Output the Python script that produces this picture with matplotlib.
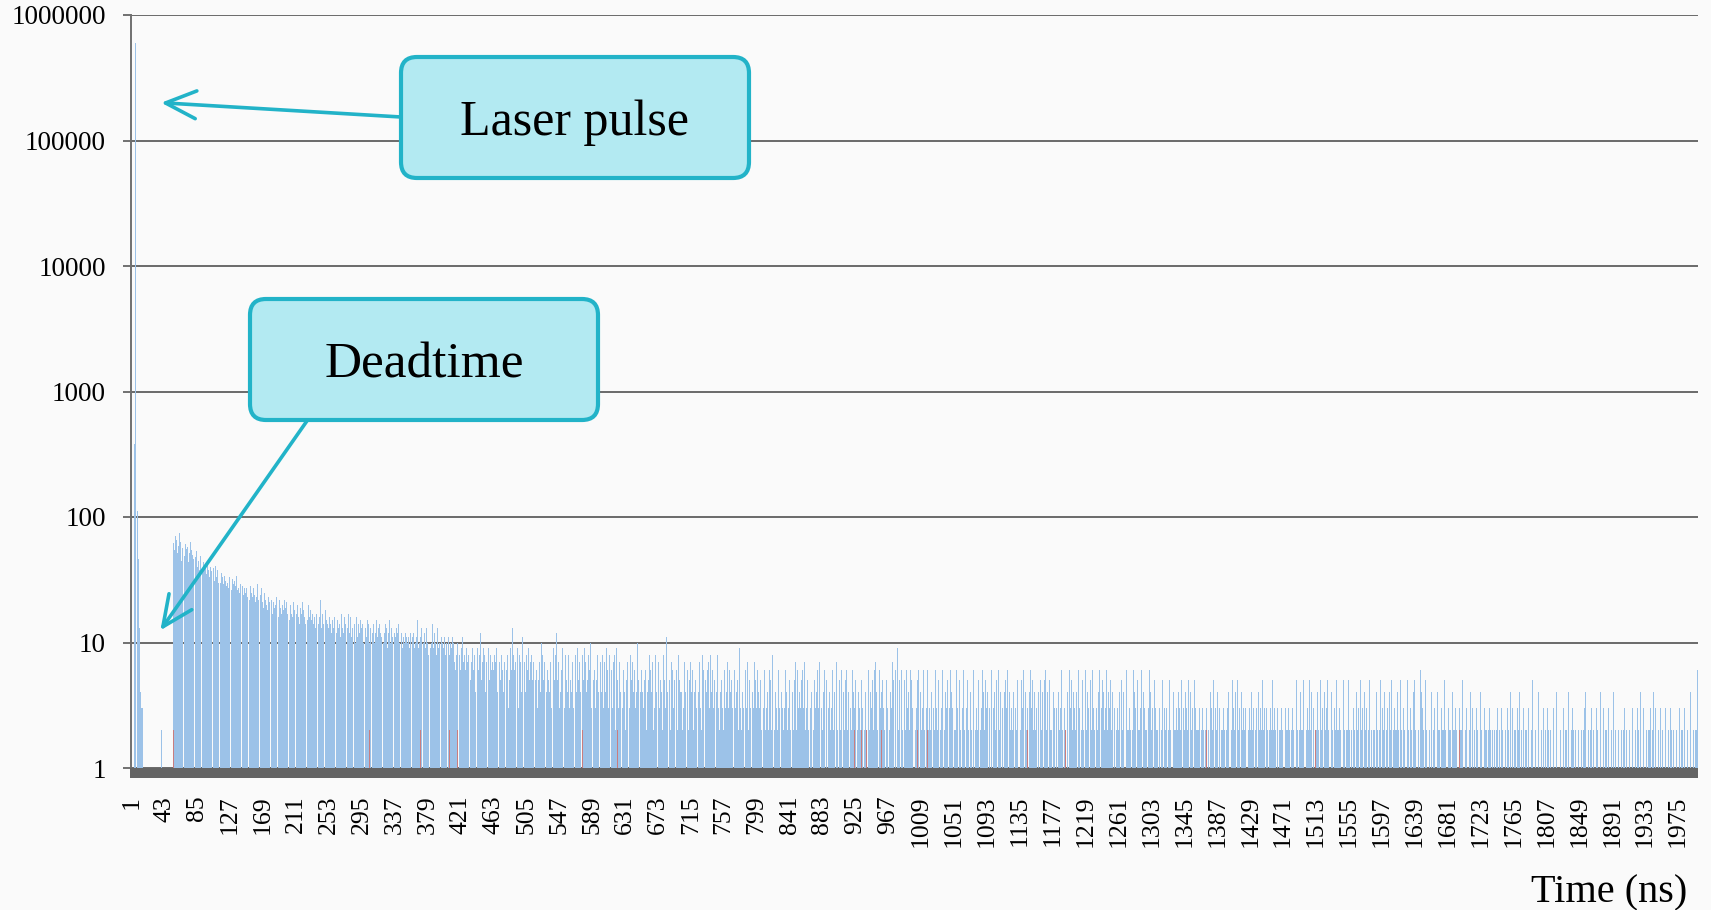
import numpy as np
import matplotlib
matplotlib.use('Agg')
import matplotlib.pyplot as plt
from matplotlib.patches import FancyBboxPatch, Rectangle
from matplotlib.transforms import IdentityTransform

# counts per 1 ns bin: laser pulse + deadtime gap
head_counts = [0, 0, 0, 0, 380, 600000, 400000, 1400, 112, 46, 13, 8, 4, 3, 3,
               0, 0, 0, 0, 0, 0, 0, 0, 0, 0, 0, 0, 0, 0, 0, 0, 0, 0, 0, 0, 0, 0, 0,
               2, 0, 0, 0, 0, 0, 0, 0, 0, 0, 0, 0, 0, 0]

# afterpulse bulk, bins 53..412
bulk_counts = [
    4, 29, 62, 55, 71, 48, 66, 52, 59, 74, 50, 63, 45, 57, 68, 53, 49, 61, 56, 47,
    58, 44, 52, 63, 41, 55, 50, 46, 59, 43, 48, 54, 40, 51, 45, 38, 49, 42, 47, 36,
    44, 39, 46, 41, 35, 43, 38, 45, 33, 40, 37, 42, 34, 39, 31, 41, 36, 33, 38, 30,
    37, 34, 30, 36, 33, 35, 29, 34, 31, 28, 35, 30, 27, 33, 29, 36, 26, 32, 29, 25,
    31, 28, 34, 26, 30, 27, 25, 29, 33, 26, 28, 24, 27, 31, 25, 27, 23, 29, 26, 22,
    28, 25, 30, 23, 27, 24, 21, 26, 23, 29, 22, 25, 20, 24, 27, 21, 23, 19, 25, 22,
    20, 24, 18, 23, 21, 27, 19, 22, 17, 21, 24, 19, 20, 23, 18, 21, 16, 22, 19, 25,
    17, 20, 18, 22, 16, 19, 21, 17, 23, 18, 15, 20, 17, 19, 16, 21, 18, 15, 19, 17,
    20, 16, 18, 14, 19, 17, 21, 15, 18, 16, 14, 19, 17, 15, 20, 16, 13, 18, 15, 17,
    14, 19, 16, 13, 17, 15, 18, 14, 16, 22, 15, 13, 17, 14, 16, 12, 18, 15, 14, 17,
    13, 16, 14, 12, 17, 15, 13, 16, 14, 18, 12, 15, 13, 16, 14, 11, 17, 13, 15, 12,
    16, 14, 11, 15, 13, 17, 12, 14, 16, 11, 13, 15, 12, 14, 10, 16, 13, 11, 14, 12,
    15, 11, 13, 14, 10, 16, 12, 13, 11, 15, 12, 14, 10, 13, 19, 11, 12, 14, 10, 13,
    12, 15, 11, 13, 10, 14, 12, 11, 13, 16, 10, 12, 14, 11, 13, 9, 12, 15, 11, 10,
    13, 11, 14, 10, 12, 11, 13, 9, 12, 14, 10, 11, 13, 12, 9, 11, 14, 10, 12, 11,
    10, 13, 11, 9, 12, 14, 10, 11, 12, 9, 13, 10, 11, 15, 9, 12, 10, 11, 13, 8,
    11, 10, 12, 9, 11, 13, 10, 8, 12, 11, 9, 10, 14, 11, 9, 12, 10, 8, 11, 13,
    9, 10, 12, 8, 11, 10, 9, 13, 11, 8, 10, 12, 9, 11, 8, 10, 14, 9, 11, 10,
]

# long tail, one base-36 digit per bin (a = 10, b = 11 ...)
tail_digits = [
    "7968a57869", "5b78649786", "8579a68475", "9687c57968", "4786958a67",
    "6857946a75", "8564795683", "7596d48675", "5938674b56", "7485695748",
    "5749563857", "4a68573946", "5847365958", "4c57384695", "6385748356",
    "4736584925", "7463859374", "5846a37456", "3958463748", "5374956384",
    "4637482956", "3748536492", "5746385374", "6384a53746", "4835627458",
    "3647253846", "4735642857", "3b46352746", "3574628354", "4263745362",
    "5374628453", "2647352864", "3546273845", "6352748362", "4537263547",
    "3624537263", "4352936243", "5263742536", "2437253642", "3524736253",
    "4263528362", "4352637243", "2536429352", "6342537263", "2435263724",
    "3526234162", "5342637253", "2436152734", "2536243172", "4352631425",
    "3624153262", "4351624372", "5316242536", "2413526374", "2516342532",
    "4253162437", "2516349253", "1624352613", "4262531742", "3526142536",
    "2413625324", "1532643251", "4236152432", "5136243152", "2634152423",
    "6241352314", "2536124325", "1423614253", "2413526132", "4251362425",
    "3142536214", "2352413625", "1342532614", "2531426352", "1423624153",
    "2415362413", "5226143523", "1452362413", "2534162352", "4132452631",
    "4252136242", "3152463215", "3242613524", "2316243152", "4263125324",
    "1352423162", "4232512642", "3152423612", "4325213624", "2312532421",
    "3242512323", "1425232142", "6232413252", "1324232512", "4232153242",
    "2315232412", "3252142325", "1232452312", "4232152342", "3125232412",
    "5232142352", "3126232142", "3252312423", "2152342321", "4232512324",
    "2312523242", "1325232142", "3242152312", "4232512423", "2152432312",
    "3242125232", "1423252132", "4212325212", "3242152312", "2532124232",
    "1242321523", "2142321252", "4212321423", "1252132421", "2312425212",
    "3212421252", "1232142521", "2321425212", "3216243212", "5212321421",
    "2312142121", "3212521213", "2121421232", "1213212512", "1231212412",
    "3121232121", "4212132121", "2312121421", "2131212321", "2121312141",
    "2312121321", "4121231212", "1312125121", "2131412121", "3212131212",
    "1213121412", "3121213121", "2141212312", "1213121252", "1213412121",
    "2131212132", "1214121312", "1213121212", "4121312131", "2121312141",
    "2121312121", "3121412131", "2121212312", "1413121212", "3121213121",
    "2131212141", "2121312121", "3121212141", "21212126",
]

counts = head_counts + bulk_counts + [int(c, 36) for c in "".join(tail_digits)]
time_ns = np.arange(1, len(counts) + 1)

# second series (only a few bins)
red_bins = [55, 72, 248, 305, 307, 370, 407, 417, 577, 621, 924, 933, 939, 958,
            1004, 1017, 1023, 1145, 1180, 1193, 1314, 1373, 1472, 1512, 1696, 1721, 1739]
red_counts = [2, 2, 3, 2, 2, 2, 2, 2, 2, 2, 2, 2, 2, 2,
              2, 2, 2, 2, 2, 2, 2, 2, 2, 2, 2, 2, 2]

y_ticks = [1, 10, 100, 1000, 10000, 100000, 1000000]
x_ticks = time_ns[::42]

W, H = 1711, 910
teal = '#22b3c8'
box_fill = '#b3eaf2'
grid_col = '#6a6a6a'
serif = ['Liberation Serif', 'DejaVu Serif']

fig = plt.figure(figsize=(W / 100, H / 100), dpi=100, facecolor='#fafafa')
ax = fig.add_axes([131 / W, 1 - 768 / H, 1567 / W, 753 / H])
ax.set_facecolor('none')

ax.bar(time_ns, counts, width=0.9, color='#9cc2e8', linewidth=0, zorder=2)
ax.bar(red_bins, red_counts, width=0.9, color='#c97d80', linewidth=0, zorder=2.5)

ax.set_yscale('log')
ax.set_ylim(1, 1e6)
ax.set_xlim(0.5, len(counts) + 0.5)
ax.set_yticks(y_ticks)
ax.set_yticklabels([str(v) for v in y_ticks], fontsize=19.5, family=serif)
ax.yaxis.set_minor_locator(matplotlib.ticker.NullLocator())
ax.set_xticks(x_ticks)
ax.set_xticklabels([str(v) for v in x_ticks], rotation=90, fontsize=18.5, family=serif)

ax.grid(axis='y', color=grid_col, linewidth=1.4, zorder=1)
ax.set_axisbelow(True)
for s in ['top', 'right', 'bottom']:
    ax.spines[s].set_visible(False)
ax.spines['left'].set_color('#707070')
ax.spines['left'].set_linewidth(1.4)
ax.tick_params(axis='y', length=6, width=1.4, color='#707070', pad=12)
ax.tick_params(axis='x', length=0, pad=20)

# thick base band under the bars
fig.add_artist(Rectangle((130, H - 778), 1568, 10, transform=IdentityTransform(),
                         facecolor='#646464', edgecolor='none'))


def callout(x0, y0, x1, y1, label, size):
    box = FancyBboxPatch((x0, H - y1), x1 - x0, y1 - y0,
                         boxstyle='round,pad=0,rounding_size=16',
                         transform=IdentityTransform(), facecolor=box_fill,
                         edgecolor=teal, linewidth=3, zorder=5)
    fig.add_artist(box)
    fig.text((x0 + x1) / 2 / W, 1 - (y0 + y1) / 2 / H, label, ha='center',
             va='center_baseline', fontsize=size, family=serif, zorder=6)


arrow = dict(arrowstyle='->,head_length=1.1,head_width=0.5', mutation_scale=20,
             color=teal, lw=2.6, shrinkA=0, shrinkB=0)
ax.annotate('', xy=(39, 2e5), xycoords='data', xytext=(401, H - 117),
            textcoords='figure pixels', arrowprops=arrow, annotation_clip=False, zorder=4)
ax.annotate('', xy=(38, 12.5), xycoords='data', xytext=(309, H - 418),
            textcoords='figure pixels', arrowprops=arrow, annotation_clip=False, zorder=4)

callout(401, 57, 749, 178, 'Laser pulse', 36)
callout(250, 299, 598, 420, 'Deadtime', 37)

fig.text(1687 / W, 1 - 902 / H, 'Time (ns)', ha='right', va='baseline',
         fontsize=29, family=serif)

fig.savefig('out.png', dpi=100, facecolor=fig.get_facecolor())
